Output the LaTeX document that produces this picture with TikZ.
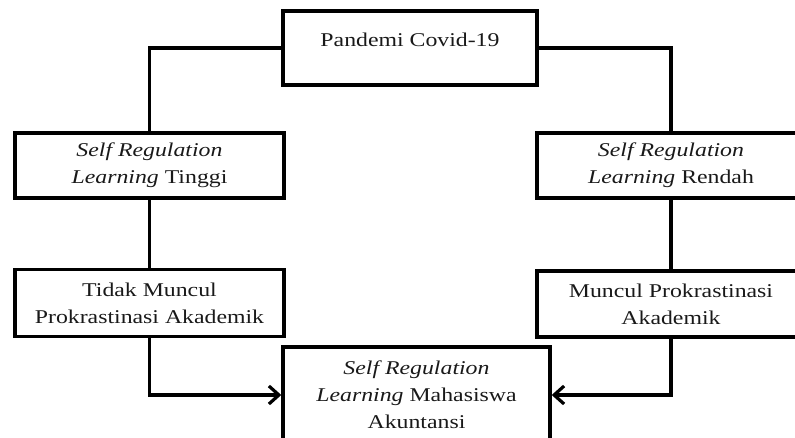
\documentclass[tikz,border=0pt]{standalone}
\usepackage{fontspec}
\setmainfont[FakeStretch=1.22]{Liberation Serif}
\usetikzlibrary{arrows.meta}
\begin{document}
\begin{tikzpicture}[x=1pt,y=-1pt,
  box/.style={draw=black, line width=3.4pt, inner sep=0pt, align=center, text=black!90,
    font=\fontsize{19.5}{27}\selectfont},
  txt/.style={inner sep=0pt, align=center, text=black!90, font=\fontsize{19.5}{27}\selectfont},
  conn/.style={line width=3.4pt},
  arr/.style={conn, -{Straight Barb[length=10pt,width=18pt,line width=3.2pt]}}]
\useasboundingbox (0,0) rectangle (795,438);
\node[box, minimum width=254pt, minimum height=74pt] (top) at (410,48) {};
\node[txt] (toptext) at (410,40) {Pandemi Covid-19};
\node[box, minimum width=269pt, minimum height=65pt] (lmid) at (149.5,165.5)
  {\textit{Self Regulation}\\\textit{Learning} Tinggi};
\node[box, minimum width=268pt, minimum height=65pt] (rmid) at (671,165.5)
  {\textit{Self Regulation}\\\textit{Learning} Rendah};
\node[box, minimum width=269pt, minimum height=67pt] (lbot) at (149.5,303)
  {Tidak Muncul\\Prokrastinasi Akademik};
\node[box, minimum width=268pt, minimum height=66pt] (rbot) at (671,304)
  {Muncul Prokrastinasi\\Akademik};
\node[box, minimum width=267pt, minimum height=96pt] (bot) at (416.5,395)
  {\textit{Self Regulation}\\\textit{Learning} Mahasiswa\\Akuntansi};
\draw[conn] (top.west) -| (lmid.north);
\draw[conn] (top.east) -| (rmid.north);
\draw[conn] (lmid.south) -- (lbot.north);
\draw[conn] (rmid.south) -- (rbot.north);
\draw[arr] (lbot.south) |- (bot.west);
\draw[arr] (rbot.south) |- (bot.east);
\end{tikzpicture}
\end{document}
